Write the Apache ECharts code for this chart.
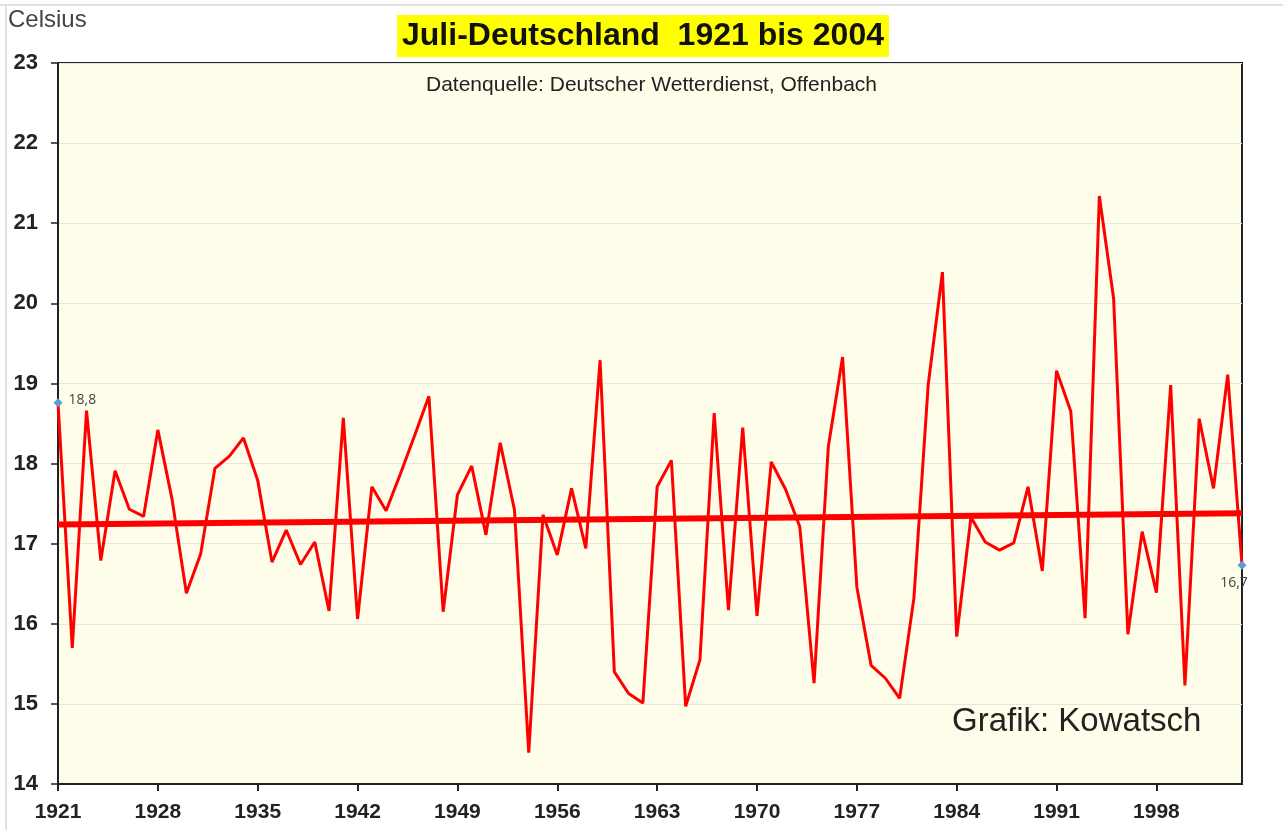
<!DOCTYPE html>
<html>
<head>
<meta charset="utf-8">
<script src="https://cdn.jsdelivr.net/npm/echarts@6/dist/echarts.min.js"></script>
<style>
html,body{margin:0;padding:0;background:#fff;}
#c{width:1283px;height:830px;}
</style>
</head>
<body>
<div id="c"></div>
<script>
var years = [];
for (var y = 1921; y <= 2004; y++) years.push(String(y));

var temps = [
  18.76, 15.70, 18.66, 16.79, 17.91, 17.43, 17.34, 18.42, 17.55, 16.38,
  16.87, 17.94, 18.09, 18.32, 17.79, 16.77, 17.17, 16.74, 17.02, 16.16,
  18.57, 16.06, 17.71, 17.41, 17.87, 18.35, 18.84, 16.15, 17.61, 17.97,
  17.11, 18.26, 17.42, 14.39, 17.36, 16.86, 17.69, 16.94, 19.29, 15.40,
  15.13, 15.01, 17.71, 18.04, 14.97, 15.55, 18.63, 16.17, 18.45, 16.10,
  18.02, 17.68, 17.21, 15.26, 18.21, 19.33, 16.46, 15.48, 15.32, 15.07,
  16.32, 18.98, 20.39, 15.84, 17.33, 17.02, 16.92, 17.01, 17.71, 16.66,
  19.16, 18.65, 16.07, 21.34, 20.06, 15.87, 17.15, 16.39, 18.98, 15.23,
  18.56, 17.69, 19.11, 16.73
];

var trendStart = 17.24;
var trendEnd = 17.38;

var annotations = { '1921': '18,8', '1983': '20,4', '1994': '21,3', '2004': '16,7' };

var mainData = years.map(function (yr, i) {
  var item = { value: temps[i] };
  if (annotations[yr]) {
    var pos = 'right', dist = 6, marker = false, off = [0, 0];
    if (yr === '1921') { marker = true; dist = 6; off = [0, -3]; }
    if (yr === '2004') { pos = 'bottom'; marker = true; dist = 6; off = [-8, 0]; }
    if (yr === '1983' || yr === '1994') { dist = 13; }
    item.symbol = marker ? 'diamond' : 'none';
    item.symbolSize = 9;
    item.itemStyle = { color: '#5B9BD5' };
    item.label = {
      show: true, position: pos, distance: dist, offset: off,
      formatter: annotations[yr],
      color: '#444', fontSize: 14, fontFamily: 'Open Sans'
    };
  }
  return item;
});

var trendData = years.map(function (yr, i) {
  if (i === 0) return trendStart;
  if (i === years.length - 1) return trendEnd;
  return '-';
});

var chart = echarts.init(document.getElementById('c'), null, { renderer: 'canvas' });
chart.setOption({
  backgroundColor: '#ffffff',
  animation: false,
  title: {
    text: 'Juli-Deutschland  1921 bis 2004',
    left: 397,
    top: 15,
    padding: [4, 5, 4, 5],
    backgroundColor: '#FFFF00',
    textStyle: { fontFamily: '"Liberation Sans", Arial', fontWeight: 'bold', fontSize: 32, color: '#111', lineHeight: 34 }
  },
  graphic: [
    { type: 'line', shape: { x1: 0, y1: 5, x2: 1283, y2: 5 }, style: { stroke: '#E2E2E2', lineWidth: 2 } },
    { type: 'line', shape: { x1: 6, y1: 5, x2: 6, y2: 830 }, style: { stroke: '#E2E2E2', lineWidth: 2 } },
    { type: 'text', left: 8, top: 8, style: { text: 'Celsius', font: '24px "Liberation Sans", Arial', fill: '#444' } },
    { type: 'text', left: 426, top: 75, style: { text: 'Datenquelle: Deutscher Wetterdienst, Offenbach', font: '21px "Liberation Sans", Arial', fill: '#222' } },
    { type: 'text', left: 952, top: 705, style: { text: 'Grafik: Kowatsch', font: '33px "Liberation Sans", Arial', fill: '#222' } }
  ],
  grid: {
    left: 58, right: 41, top: 63, bottom: 46,
    show: true, backgroundColor: '#FDFDE9', borderColor: '#222', borderWidth: 2
  },
  xAxis: {
    type: 'category',
    data: years,
    boundaryGap: false,
    axisLine: { lineStyle: { color: '#222', width: 2 } },
    axisTick: { show: true, interval: 6, length: 7, lineStyle: { color: '#222', width: 2 } },
    axisLabel: { interval: 6, color: '#222', fontWeight: 'bold', fontSize: 21, fontFamily: '"Liberation Sans", Arial', margin: 18 },
    splitLine: { show: false }
  },
  yAxis: {
    type: 'value',
    min: 14, max: 23, interval: 1,
    axisLine: { show: true, lineStyle: { color: '#222', width: 2 } },
    axisTick: { show: true, length: 7, lineStyle: { color: '#222', width: 1.5 } },
    axisLabel: { color: '#222', fontWeight: 'bold', fontSize: 22, fontFamily: '"Liberation Sans", Arial', margin: 20 },
    splitLine: { show: true, lineStyle: { color: '#E6E8E0', width: 1 } }
  },
  series: [
    {
      type: 'line',
      data: trendData,
      connectNulls: true,
      symbol: 'none',
      lineStyle: { color: '#FF0000', width: 6 },
      z: 2
    },
    {
      type: 'line',
      data: mainData,
      symbol: 'none',
      showSymbol: true,
      showAllSymbol: true,
      lineStyle: { color: '#FF0000', width: 3 },
      itemStyle: { color: '#5B9BD5' },
      z: 3
    }
  ]
});
</script>
</body>
</html>
